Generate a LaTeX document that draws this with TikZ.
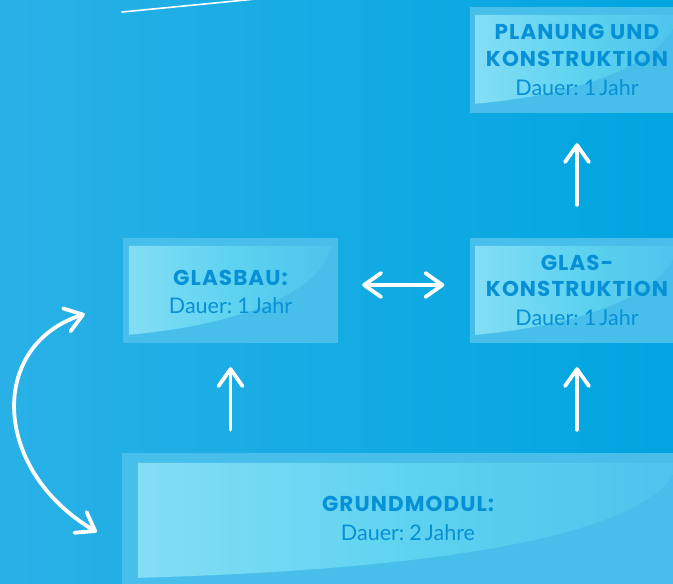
\documentclass[tikz,border=0pt]{standalone}
\usepackage{fontspec}
\newfontfamily\headfont[LetterSpace=5]{Poppins Bold}
\newfontfamily\durfont{Lato}
\newcommand\durstyle{\durfont\fontsize{21.5}{21.5}\selectfont\spaceskip 3.2pt\relax}
\usetikzlibrary{arrows.meta,calc}
\definecolor{bgL}{HTML}{29B1E7}
\definecolor{bgR}{HTML}{01A5E0}
\definecolor{boxfill}{HTML}{48BFEA}
\definecolor{glL}{HTML}{84DEF5}
\definecolor{glM}{HTML}{5ED3F0}
\definecolor{glR}{HTML}{4CC4EC}
\definecolor{txt}{HTML}{0790D5}
\tikzset{
  module/.style={rectangle, fill=boxfill, draw=none, inner sep=0pt},
  gloss/.style={left color=glL, right color=glR, middle color=glM},
  headtxt/.style={anchor=base, inner sep=0pt, text=txt, font=\headfont\fontsize{21.5}{21.5}\selectfont},
  durtxt/.style={anchor=base, inner sep=0pt, text=txt, font=\durstyle},
  tipA/.tip={Straight Barb[length=17pt,width=24pt,line cap=round,line join=round]},
  arr/.style={draw=white, line width=3.8pt, line cap=round, -tipA},
  darr/.style={draw=white, line width=3.8pt, line cap=round, tipA-tipA}
}
\newcommand\glossbox[1]{%
  \shade[gloss] ($(#1.north west)+(6,8)$) -- ($(#1.north east)+(-6,8)$)
    .. controls ($(#1.north east)+(-20,60)$) and ($(#1.north west)+(105,88)$)
    .. ($(#1.north west)+(6,97)$) -- cycle;}
\begin{document}
\begin{tikzpicture}[x=1pt,y=-1pt]
\useasboundingbox (0,0) rectangle (673,584);
\shade[left color=bgL, right color=bgR] (0,0) rectangle (673,584);
\clip (0,0) rectangle (673,584);

% boxes
\node[module, minimum width=215pt, minimum height=106pt] (plan) at (577,60) {};
\node[module, minimum width=215pt, minimum height=105pt] (glas) at (577,290.5) {};
\node[module, minimum width=215pt, minimum height=105pt] (glasbau) at (230.5,290.5) {};
\node[module, minimum width=572pt, minimum height=136pt] (grund) at (408,521) {};

\glossbox{plan}
\glossbox{glas}
\glossbox{glasbau}
\shade[gloss] ($(grund.north west)+(16,10)$) -- ($(grund.north east)+(-16,10)$)
  .. controls ($(grund.north east)+(-32,70)$) and ($(grund.north west)+(380,115)$)
  .. ($(grund.north west)+(16,125)$) -- cycle;

% texts
\node[headtxt] (plan-a) at (577,39) {PLANUNG UND};
\node[headtxt] (plan-b) at (577,66) {KONSTRUKTION};
\node[durtxt]  (plan-c) at (577,95) {Dauer: 1 Jahr};

\node[headtxt] (glas-a) at (577,270) {GLAS-};
\node[headtxt] (glas-b) at (577,296.5) {KONSTRUKTION};
\node[durtxt]  (glas-c) at (577,325) {Dauer: 1 Jahr};

\node[headtxt] (glasbau-a) at (230.5,285) {GLASBAU:};
\node[durtxt]  (glasbau-b) at (230.5,313) {Dauer: 1 Jahr};

\node[headtxt] (grund-a) at (408,511) {GRUNDMODUL:};
\node[durtxt]  (grund-b) at (408,540) {Dauer: 2 Jahre};

% arrows
\draw[arr] ($(glas.north)+(0,-33)$) -- ($(plan.south)+(0,30)$);
\draw[arr] ($(grund.north -| glasbau.south)+(0,-23)$) -- ($(glasbau.south)+(0,24)$);
\draw[arr] ($(grund.north -| glas.south)+(0,-23)$) -- ($(glas.south)+(0,24)$);
\draw[darr] ($(glasbau.east)+(24,-5.5)$) -- ($(glas.west)+(-25,-5.5)$);
\draw[darr] ($(glasbau.west)+(-38,23.5)$)
  .. controls ($(glasbau.west)+(-135,55)$) and ($(grund.west)+(-130,-51)$)
  .. ($(grund.west)+(-25,11)$);
\draw[white, line width=1.6pt, line cap=round] (122,12) -- (256,-1);
\end{tikzpicture}
\end{document}
